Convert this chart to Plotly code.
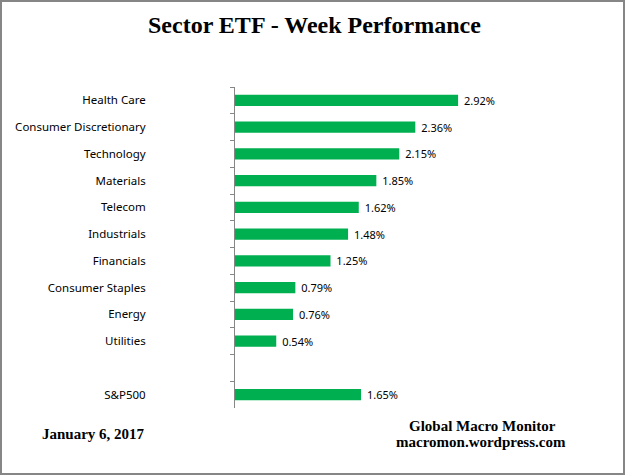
import plotly.graph_objects as go

categories = ["Health Care", "Consumer Discretionary", "Technology", "Materials",
              "Telecom", "Industrials", "Financials", "Consumer Staples",
              "Energy", "Utilities", " ", "S&P500"]
values = [2.92, 2.36, 2.15, 1.85, 1.62, 1.48, 1.25, 0.79, 0.76, 0.54, None, 1.65]
labels = [f"\u00a0{v:.2f}%" if v is not None else "" for v in values]

W, H = 625, 475
L, R, T, B = 235, 25, 87, 67
pw = W - L - R
ph = H - T - B
xmax = pw / 76.4

fig = go.Figure(go.Bar(
    y=categories, x=values, orientation="h",
    marker=dict(color="#00B050", line=dict(width=0)),
    text=labels, textposition="outside", cliponaxis=False, constraintext="none",
    textfont=dict(family="Noto Sans", size=11, color="black"),
    hoverinfo="skip",
))

fig.update_layout(
    width=W, height=H,
    margin=dict(l=L, r=R, t=T, b=B),
    paper_bgcolor="white", plot_bgcolor="white",
    showlegend=False, bargap=0.58,
    xaxis=dict(range=[0, xmax], visible=False, fixedrange=True),
    yaxis=dict(categoryorder="array", categoryarray=categories, autorange="reversed",
               showline=True, linecolor="#868686", linewidth=1,
               ticks="outside", tickson="boundaries", ticklen=4, tickcolor="#868686",
               ticklabelstandoff=86, showgrid=False, fixedrange=True,
               tickfont=dict(family="Noto Sans", size=11.5, color="black")),
    font=dict(family="Noto Sans"),
)

fx = lambda px: (px - L) / pw
fy = lambda py: (H - B - py) / ph

fig.add_shape(type="rect", xref="paper", yref="paper",
              x0=fx(1), x1=fx(W - 1), y0=fy(H - 1), y1=fy(1),
              line=dict(color="#868686", width=2), fillcolor="rgba(0,0,0,0)", layer="below")

serif = "Liberation Serif"
fig.add_annotation(text="<b>Sector ETF - Week Performance</b>", xref="paper", yref="paper",
                   x=fx(314), y=fy(25.5), showarrow=False, xanchor="center", yanchor="middle",
                   font=dict(family=serif, size=24, color="black"))
fig.add_annotation(text="<b>January 6, 2017</b>", xref="paper", yref="paper",
                   x=fx(40), y=fy(433.5), showarrow=False, xanchor="left", yanchor="middle",
                   font=dict(family=serif, size=15, color="black"))
fig.add_annotation(text="<b>Global Macro Monitor</b>", xref="paper", yref="paper",
                   x=fx(482), y=fy(426), showarrow=False, xanchor="center", yanchor="middle",
                   font=dict(family=serif, size=15, color="black"))
fig.add_annotation(text="<b>macromon.wordpress.com</b>", xref="paper", yref="paper",
                   x=fx(481), y=fy(442), showarrow=False, xanchor="center", yanchor="middle",
                   font=dict(family=serif, size=15, color="black"))

fig.write_html("out.html", config={"displayModeBar": False},
               post_script="document.body.style.margin='0';document.body.style.overflow='hidden';")
